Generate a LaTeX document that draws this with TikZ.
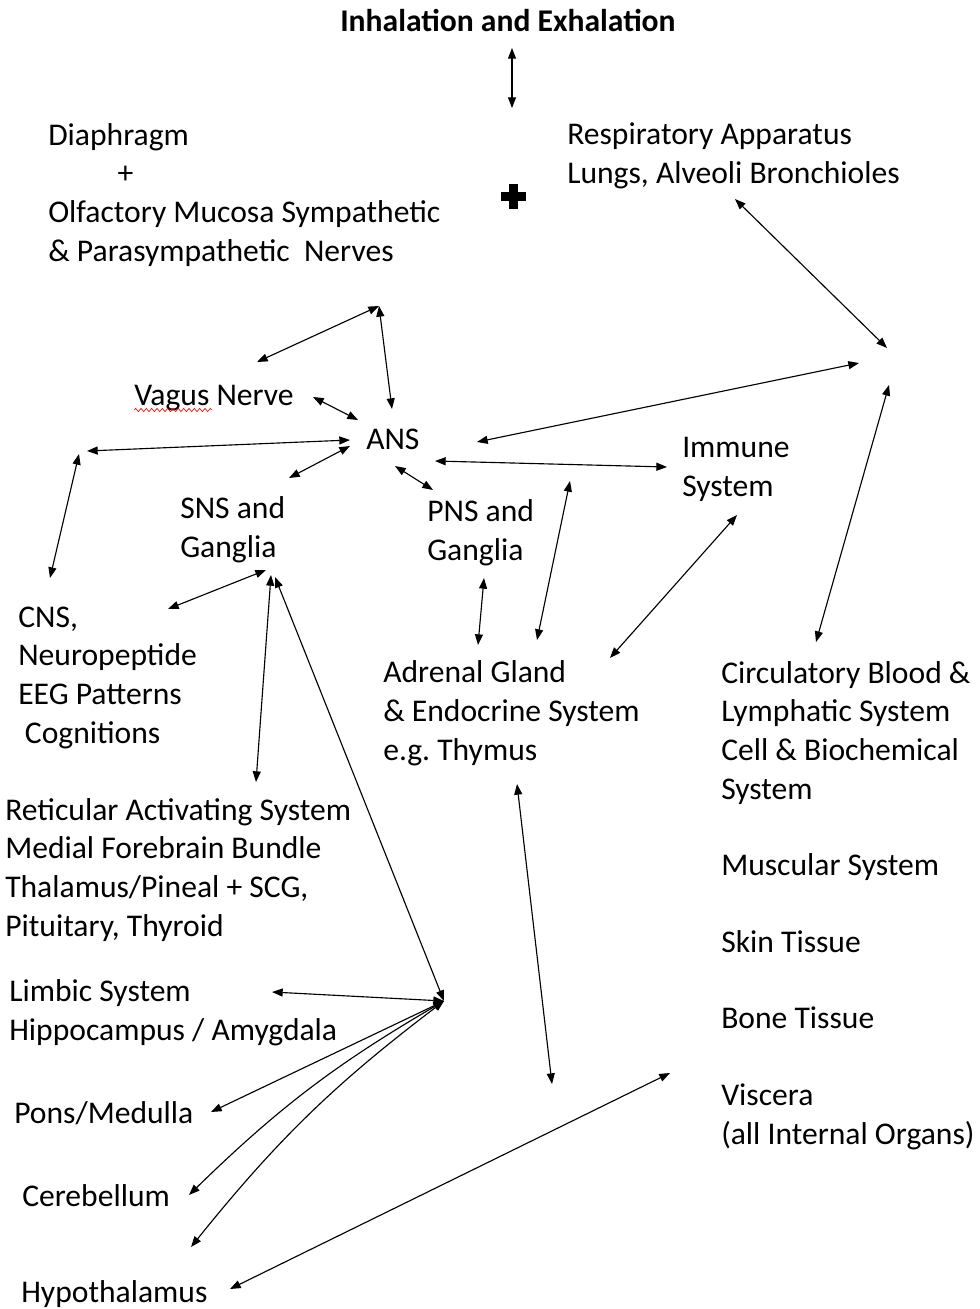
\documentclass[tikz,border=0pt]{standalone}
\usepackage{fontspec}
\setmainfont{Carlito}
\usetikzlibrary{arrows.meta,decorations.pathmorphing}

\begin{document}
\begin{tikzpicture}[x=0.75pt,y=0.75pt,yscale=-1,xscale=1,
  txt/.style={anchor=base west,inner sep=0pt,align=left,font=\fontsize{23.7}{28.9}\selectfont},
  link/.style={{Triangle[length=8pt,width=6pt]}-{Triangle[length=8pt,width=6pt]},line width=0.85pt}]
\useasboundingbox (0,0) rectangle (979,1309);

% texts (base = last line)
\draw (340,32) node (title) [txt] {\bfseries Inhalation and Exhalation};
\draw (48,261) node (diaph) [txt] {Diaphragm\\\hspace*{52pt}+\\Olfactory Mucosa Sympathetic\\\& Parasympathetic\ \ Nerves};
\draw (567,183) node (resp) [txt] {Respiratory Apparatus\\Lungs, Alveoli Bronchioles};
\draw (134,405) node (vagus) [txt] {Vagus Nerve};
\draw (366,449) node (ans) [txt] {ANS};
\draw (682,496) node (immune) [txt] {Immune\\System};
\draw (180,557) node (sns) [txt] {SNS and\\Ganglia};
\draw (427,560) node (pns) [txt] {PNS and\\Ganglia};
\draw (18,743) node (cns) [txt] {CNS,\\Neuropeptide\\EEG Patterns\\\hspace*{5pt}Cognitions};
\draw (383,760) node (adrenal) [txt] {Adrenal Gland\\\& Endocrine System\\e.g.\ Thymus};
\draw (721,799) node (circ) [txt] {Circulatory Blood \&\\Lymphatic System\\Cell \& Biochemical\\System};
\draw (721,875) node (muscular) [txt] {Muscular System};
\draw (721,952) node (skin) [txt] {Skin Tissue};
\draw (721,1028) node (bone) [txt] {Bone Tissue};
\draw (721,1144) node (viscera) [txt] {Viscera\\(all Internal Organs)};
\draw (5,936) node (ras) [txt] {Reticular Activating System\\Medial Forebrain Bundle\\Thalamus/Pineal + SCG,\\Pituitary, Thyroid};
\draw (9,1040) node (limbic) [txt] {Limbic System\\Hippocampus / Amygdala};
\draw (14,1123) node (pons) [txt] {Pons/Medulla};
\draw (22,1206) node (cereb) [txt] {Cerebellum};
\draw (21,1302) node (hypo) [txt] {Hypothalamus};

% spell-check squiggle and heavy plus
\draw [red,line width=0.5pt,decorate,decoration={snake,segment length=4,amplitude=1.2}] (134,410) -- (212,410);
\fill (509,184) rectangle (518,209);
\fill (501,192) rectangle (526,201);

% arrow ends
\coordinate (inhT) at (512,48);
\coordinate (inhB) at (512,108);
\coordinate (lungsE) at (735,199);
\coordinate (rtA) at (887,348);
\coordinate (rtB) at (859,363);
\coordinate (rtC) at (889,385);
\coordinate (topP) at (379,306);
\coordinate (vagusU) at (257,362);
\coordinate (ansU) at (392,409);
\coordinate (vagusR) at (313,397);
\coordinate (ansNW) at (358,420);
\coordinate (ansW) at (350,440);
\coordinate (ansSW) at (350,446);
\coordinate (leftP) at (87,451);
\coordinate (leftQ) at (79,454);
\coordinate (cnsT) at (50,578);
\coordinate (snsT) at (289,478);
\coordinate (ansE) at (477,442);
\coordinate (ansSE) at (435,461);
\coordinate (immW) at (667,467);
\coordinate (ansS) at (395,466);
\coordinate (pnsT) at (433,490);
\coordinate (midT) at (570,481);
\coordinate (adrT) at (537,640);
\coordinate (immS) at (737,515);
\coordinate (adrE) at (610,658);
\coordinate (pnsB) at (484,578);
\coordinate (adrN) at (478,645);
\coordinate (circT) at (816,642);
\coordinate (snsB) at (266,570);
\coordinate (cnsE) at (168,609);
\coordinate (snsS) at (271,575);
\coordinate (rasT) at (256,782);
\coordinate (snsR) at (275,577);
\coordinate (hub) at (444,1001);
\coordinate (adrB) at (517,784);
\coordinate (lowP) at (552,1084);
\coordinate (limbE) at (272,992);
\coordinate (ponsE) at (211,1112);
\coordinate (cerebE) at (189,1195);
\coordinate (hypoE) at (191,1247);
\coordinate (visW) at (670,1073);
\coordinate (hypoR) at (230,1289);

% connectors
\draw [link] (inhT) -- (inhB);
\draw [link] (lungsE) -- (rtA);
\draw [link] (topP) -- (vagusU);
\draw [link] (topP) -- (ansU);
\draw [link] (vagusR) -- (ansNW);
\draw [link] (ansW) -- (leftP);
\draw [link] (leftQ) -- (cnsT);
\draw [link] (ansSW) -- (snsT);
\draw [link] (ansE) -- (rtB);
\draw [link] (ansSE) -- (immW);
\draw [link] (ansS) -- (pnsT);
\draw [link] (rtC) -- (circT);
\draw [link] (midT) -- (adrT);
\draw [link] (immS) -- (adrE);
\draw [link] (pnsB) -- (adrN);
\draw [link] (snsB) -- (cnsE);
\draw [link] (snsS) -- (rasT);
\draw [link] (snsR) -- (hub);
\draw [link] (adrB) -- (lowP);
\draw [link] (hub) -- (limbE);
\draw [link] (hub) -- (ponsE);
\draw [link] (hub) to[bend left=7] (cerebE);
\draw [link] (hub) to[bend left=7] (hypoE);
\draw [link] (visW) -- (hypoR);
\end{tikzpicture}
\end{document}
